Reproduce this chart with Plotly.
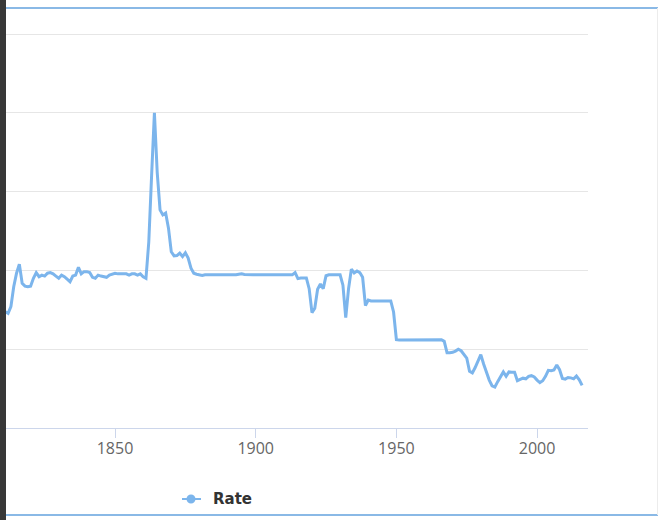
import plotly.graph_objects as go

W, H = 658, 520

# ---- data ----
years = list(range(1811, 2017))
rate = [
    3.69, 3.64, 3.85, 4.48, 4.91, 5.20, 4.59, 4.50, 4.48, 4.50,   # 1811-1820
    4.75, 4.93, 4.80, 4.85, 4.82, 4.91, 4.93, 4.89, 4.82, 4.75,   # 1821-1830
    4.85, 4.80, 4.72, 4.64, 4.82, 4.85, 5.10, 4.89, 4.96, 4.96,   # 1831-1840
    4.93, 4.78, 4.75, 4.85, 4.82, 4.80, 4.78, 4.85, 4.89, 4.91,   # 1841-1850
    4.89, 4.89, 4.91, 4.89, 4.85, 4.89, 4.89, 4.85, 4.89, 4.80,   # 1851-1860
    4.75, 5.90, 8.00, 10.00, 8.10, 6.92, 6.76, 6.82, 6.34, 5.59,  # 1861-1870
    5.46, 5.47, 5.55, 5.44, 5.56, 5.39, 5.07, 4.91, 4.88, 4.85,   # 1871-1880
    4.84, 4.86, 4.86, 4.86, 4.86, 4.86, 4.86, 4.87, 4.86, 4.86,   # 1881-1890
    4.85, 4.86, 4.86, 4.88, 4.89, 4.87, 4.86, 4.85, 4.86, 4.86,   # 1891-1900
    4.85, 4.86, 4.86, 4.86, 4.86, 4.86, 4.86, 4.86, 4.87, 4.86,   # 1901-1910
    4.86, 4.86, 4.86, 4.93, 4.74, 4.76, 4.76, 4.76, 4.42, 3.66,   # 1911-1920
    3.80, 4.40, 4.57, 4.42, 4.83, 4.86, 4.86, 4.87, 4.86, 4.86,   # 1921-1930
    4.53, 3.50, 4.42, 5.04, 4.92, 4.98, 4.93, 4.78, 3.88, 4.06,   # 1931-1940
    4.03, 4.03, 4.03, 4.03, 4.03, 4.03, 4.03, 4.03, 3.68, 2.80,   # 1941-1950
    2.79, 2.79, 2.81, 2.81, 2.79, 2.80, 2.79, 2.81, 2.81, 2.81,   # 1951-1960
    2.80, 2.81, 2.80, 2.80, 2.79, 2.80, 2.75, 2.39, 2.39, 2.40,   # 1961-1970
    2.44, 2.50, 2.45, 2.34, 2.22, 1.80, 1.75, 1.92, 2.12, 2.33,   # 1971-1980
    2.03, 1.75, 1.52, 1.34, 1.30, 1.47, 1.64, 1.78, 1.64, 1.78,   # 1981-1990
    1.77, 1.77, 1.50, 1.53, 1.58, 1.56, 1.64, 1.66, 1.62, 1.52,   # 1991-2000
    1.44, 1.50, 1.64, 1.83, 1.82, 1.84, 2.00, 1.85, 1.57, 1.55,   # 2001-2010
    1.60, 1.59, 1.56, 1.65, 1.53, 1.35,                           # 2011-2016
]
assert len(years) == len(rate)

x_ticks = [1850, 1900, 1950, 2000]
x_tick_labels = ["1850", "1900", "1950", "2000"]
y_ticks = [0, 2.5, 5, 7.5, 10, 12.5]
series_name = "Rate"

LINE = "#7cb5ec"

def px(x):
    return x / W

def py(y):
    return 1 - y / H

# y scale: value 0 at pixel 428, 12.5 at pixel 34
Y_PX_PER_UNIT = (428 - 34) / 12.5
Y_MAX = 12.8
y_top_px = 428 - Y_MAX * Y_PX_PER_UNIT

fig = go.Figure()
fig.add_trace(go.Scatter(
    x=years, y=rate, mode="lines", name=series_name,
    line=dict(color=LINE, width=3), showlegend=False,
))

shapes = [
    # dark bar on the left edge
    dict(type="rect", xref="paper", yref="paper", x0=0, x1=px(6), y0=0, y1=1,
         fillcolor="#383838", line=dict(width=0), layer="above"),
    # top and bottom blue borders
    dict(type="line", xref="paper", yref="paper", x0=px(6), x1=1, y0=py(8), y1=py(8),
         line=dict(color="#8ab9e6", width=2)),
    dict(type="line", xref="paper", yref="paper", x0=px(6), x1=1, y0=py(515), y1=py(515),
         line=dict(color="#8ab9e6", width=2)),
    # faint right border
    dict(type="line", xref="paper", yref="paper", x0=px(657.5), x1=px(657.5), y0=py(515), y1=py(8),
         line=dict(color="#ececec", width=1)),
    # legend symbol
    dict(type="line", xref="paper", yref="paper", x0=px(182), x1=px(201), y0=py(499), y1=py(499),
         line=dict(color=LINE, width=2)),
    dict(type="circle", xref="paper", yref="paper", x0=px(186.5), x1=px(195.5),
         y0=py(503.5), y1=py(494.5), fillcolor=LINE, line=dict(width=0)),
]

fig.update_layout(
    width=W, height=H,
    margin=dict(l=0, r=0, t=0, b=0),
    paper_bgcolor="white", plot_bgcolor="white",
    showlegend=False,
    shapes=shapes,
    annotations=[dict(
        xref="paper", yref="paper", x=px(211), y=py(499), xanchor="left", yanchor="middle",
        text="<b>%s</b>" % series_name, showarrow=False,
        font=dict(family="DejaVu Sans", size=15, color="#333333"),
    )],
    xaxis=dict(
        domain=[px(5), px(588)],
        range=[1810.9, 2018.1],
        tickvals=x_ticks, ticktext=x_tick_labels,
        ticks="outside", ticklen=9, tickcolor="#ccd6eb", tickwidth=1,
        showline=True, linecolor="#ccd6eb", linewidth=1,
        showgrid=False, zeroline=False,
        ticklabelstandoff=-3,
        tickfont=dict(family="Open Sans", size=16, color="#666666"),
    ),
    yaxis=dict(
        domain=[py(428), py(y_top_px)],
        range=[0, Y_MAX],
        tickvals=y_ticks,
        showticklabels=False,
        showgrid=True, gridcolor="#e6e6e6", gridwidth=1,
        zeroline=False, showline=False, ticks="",
    ),
)

fig.write_html("out.html", config={"displayModeBar": False},
               post_script="document.body.style.margin='0';")
